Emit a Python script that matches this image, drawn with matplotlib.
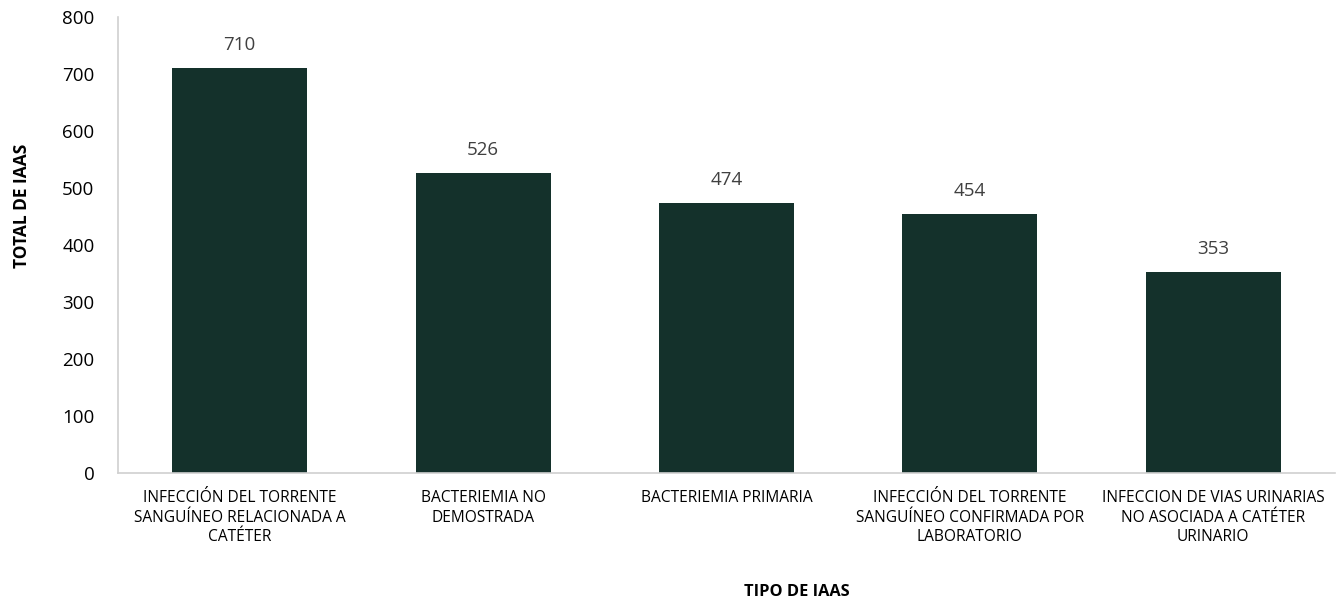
import matplotlib
matplotlib.use("Agg")
import matplotlib.pyplot as plt

categories = [
    "INFECCIÓN DEL TORRENTE\nSANGUÍNEO RELACIONADA A\nCATÉTER",
    "BACTERIEMIA NO\nDEMOSTRADA",
    "BACTERIEMIA PRIMARIA",
    "INFECCIÓN DEL TORRENTE\nSANGUÍNEO CONFIRMADA POR\nLABORATORIO",
    "INFECCION DE VIAS URINARIAS\nNO ASOCIADA A CATÉTER\nURINARIO",
]
values = [710, 526, 474, 454, 353]
yticks = [0, 100, 200, 300, 400, 500, 600, 700, 800]

plt.rcParams['font.family'] = ['Open Sans', 'DejaVu Sans']

fig = plt.figure(figsize=(13.44, 6.08), dpi=100)
ax = fig.add_axes([0.0878, 0.222, 0.9055, 0.75])

x = list(range(len(categories)))
bars = ax.bar(x, values, width=0.555, color="#14312B", zorder=2)
for xi, v in zip(x, values):
    ax.annotate(f"{v}", (xi, v), xytext=(0, 10), textcoords="offset points",
                ha="center", va="bottom", fontsize=13.5, color="#404040")

ax.set_xlim(-0.5, len(categories) - 0.5)
ax.set_ylim(0, 800)
ax.set_yticks(yticks)
ax.set_yticklabels([str(t) for t in yticks], fontsize=13.5, color="#000000")
ax.set_xticks(x)
ax.set_xticklabels(categories, fontsize=11.2, color="#000000", linespacing=1.32)
ax.tick_params(axis="both", length=0)
ax.tick_params(axis="y", pad=17)
ax.tick_params(axis="x", pad=12)

for s in ["top", "right"]:
    ax.spines[s].set_visible(False)
for s in ["left", "bottom"]:
    ax.spines[s].set_color("#D0D0D0")
    ax.spines[s].set_linewidth(1.2)

fig.text(0.016, 0.662, "TOTAL DE IAAS", rotation=90, ha="center", va="center",
         fontsize=12.5, fontweight="bold")
fig.text(0.593, 0.027, "TIPO DE IAAS", ha="center", va="center",
         fontsize=11.8, fontweight="bold")

fig.savefig("out.png", dpi=100)
